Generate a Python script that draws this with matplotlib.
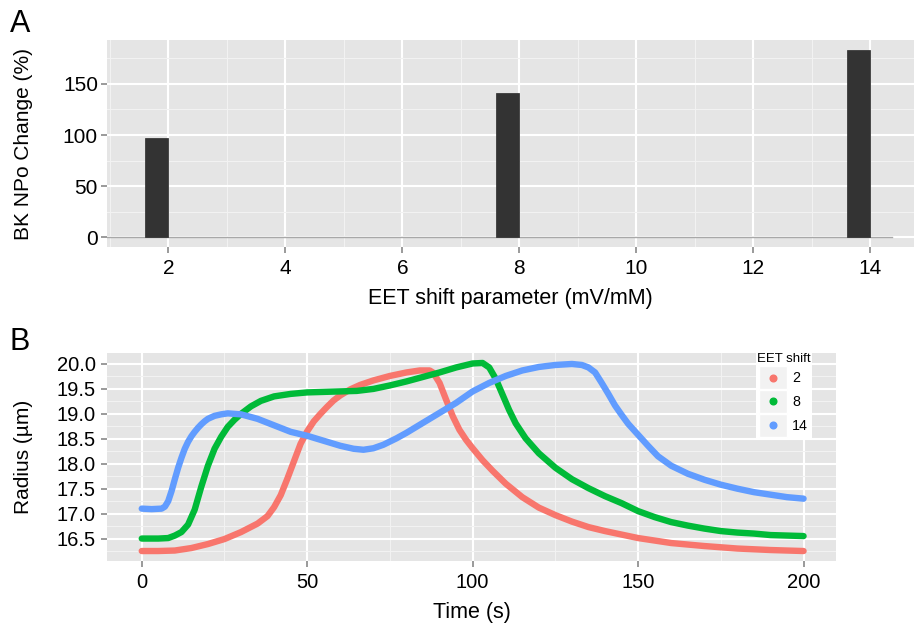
import matplotlib
matplotlib.use("Agg")
import matplotlib.pyplot as plt
from matplotlib.ticker import MultipleLocator, FormatStrFormatter
from matplotlib.legend_handler import HandlerBase
from matplotlib.patches import Rectangle
from matplotlib.lines import Line2D

plt.rcParams['font.family'] = ['Liberation Sans', 'DejaVu Sans']

# ---- Panel A data: BK channel open-probability change vs EET shift ----
eet_shift = [2, 8, 14]
npo_change = [97, 141, 183]

# ---- Panel B data: vessel radius time courses for each EET shift ----
t_2 = [0, 5, 10, 15, 20, 25, 30, 35, 38, 40, 42, 44, 46, 48, 50, 52, 54, 56, 58,
       60, 63, 66, 70, 75, 80, 84, 87, 88, 90, 92, 94, 96, 98, 100, 103, 106,
       110, 115, 120, 125, 130, 135, 140, 145, 150, 160, 170, 180, 190, 200]
r_2 = [16.25, 16.25, 16.26, 16.31, 16.39, 16.49, 16.63, 16.80, 16.95, 17.13,
       17.37, 17.70, 18.05, 18.40, 18.65, 18.85, 19.00, 19.14, 19.27, 19.37,
       19.49, 19.58, 19.67, 19.76, 19.83, 19.87, 19.87, 19.83, 19.62, 19.28,
       18.95, 18.68, 18.48, 18.31, 18.07, 17.86, 17.60, 17.33, 17.12, 16.97,
       16.84, 16.73, 16.65, 16.58, 16.51, 16.41, 16.35, 16.30, 16.27, 16.25]

t_8 = [0, 5, 8, 10, 12, 14, 16, 18, 20, 22, 24, 26, 28, 30, 33, 36, 40, 45, 50,
       55, 60, 65, 70, 75, 80, 85, 90, 95, 100, 103, 105, 107, 109, 111, 113,
       116, 120, 125, 130, 135, 140, 145, 150, 155, 160, 165, 170, 175, 180,
       185, 190, 195, 200]
r_8 = [16.50, 16.50, 16.51, 16.56, 16.63, 16.78, 17.08, 17.54, 17.96, 18.30,
       18.54, 18.74, 18.88, 19.00, 19.15, 19.26, 19.35, 19.40, 19.43, 19.44,
       19.45, 19.46, 19.50, 19.57, 19.65, 19.74, 19.83, 19.93, 20.01, 20.02,
       19.93, 19.70, 19.39, 19.08, 18.81, 18.51, 18.21, 17.92, 17.69, 17.51,
       17.35, 17.21, 17.05, 16.93, 16.83, 16.76, 16.70, 16.65, 16.62, 16.60,
       16.57, 16.56, 16.55]

t_14 = [0, 3, 6, 7, 8, 9, 10, 11, 12, 13, 14, 15, 16, 17, 18, 19, 20, 22, 24, 26,
        30, 35, 40, 45, 50, 55, 60, 64, 67, 70, 73, 77, 80, 85, 90, 95, 100,
        105, 110, 115, 120, 125, 130, 133, 135, 137, 139, 141, 143, 145, 147,
        150, 153, 156, 160, 165, 170, 175, 180, 185, 190, 195, 200]
r_14 = [17.10, 17.09, 17.10, 17.14, 17.25, 17.45, 17.69, 17.92, 18.12, 18.30,
        18.44, 18.55, 18.64, 18.72, 18.79, 18.85, 18.90, 18.96, 18.99, 19.01,
        18.99, 18.90, 18.77, 18.64, 18.56, 18.46, 18.36, 18.30, 18.28, 18.31,
        18.38, 18.51, 18.62, 18.82, 19.02, 19.22, 19.45, 19.62, 19.76, 19.87,
        19.94, 19.98, 20.00, 19.98, 19.93, 19.83, 19.62, 19.40, 19.17, 18.98,
        18.80, 18.58, 18.36, 18.15, 17.96, 17.80, 17.68, 17.58, 17.50, 17.43,
        17.38, 17.33, 17.30]

series = [("2", t_2, r_2, "#F8766D"),
          ("8", t_8, r_8, "#00BA38"),
          ("14", t_14, r_14, "#619CFF")]

PANEL_BG = "#E5E5E5"
MINOR_GRID = "#F2F2F2"
TICK_GREY = "#7F7F7F"

W, H = 914, 627
fig = plt.figure(figsize=(W / 100, H / 100), dpi=100)


def px_axes(left, top, right, bottom):
    return fig.add_axes([left / W, 1 - bottom / H, (right - left) / W, (bottom - top) / H])


def gg_style(ax, fs, ypad):
    ax.set_facecolor(PANEL_BG)
    for s in ax.spines.values():
        s.set_visible(False)
    ax.grid(which="major", color="white", lw=1.5)
    ax.grid(which="minor", color=MINOR_GRID, lw=0.8)
    ax.set_axisbelow(True)
    ax.tick_params(which="major", length=4, width=1.1, color=TICK_GREY,
                   labelsize=fs, labelcolor="black")
    ax.tick_params(axis="x", which="major", pad=5)
    ax.tick_params(axis="y", which="major", pad=ypad)
    ax.tick_params(which="minor", length=0)


# ---------------- Panel A ----------------
axA = px_axes(107, 40, 914, 247)
gg_style(axA, 15, 2.5)
axA.set_xlim(0.95, 14.75)
axA.set_ylim(-9.6, 193)
axA.xaxis.set_major_locator(MultipleLocator(2))
axA.xaxis.set_minor_locator(MultipleLocator(1))
axA.yaxis.set_major_locator(MultipleLocator(50))
axA.yaxis.set_minor_locator(MultipleLocator(25))
axA.bar(eet_shift, npo_change, width=-0.4, align="edge", color="#333333",
        edgecolor="#2a2a2a", lw=0.5, zorder=3)
baseline_end = 14.38
x0, x1 = axA.get_xlim()
axA.axhline(0, xmin=0, xmax=(baseline_end - x0) / (x1 - x0), color="#A8A8A8", lw=1.0, zorder=2)
axA.set_xlabel("EET shift parameter (mV/mM)", fontsize=15.5)
axA.set_ylabel("BK NPo Change (%)", fontsize=15)
axA.xaxis.set_label_coords(0.5, -0.2)
axA.yaxis.set_label_coords(-0.092, 0.5)
fig.text(10 / W, 1 - 32 / H, "A", fontsize=22, ha="left", va="baseline")


# ---------------- Panel B ----------------
axB = px_axes(107, 353, 836, 561)
gg_style(axB, 14.5, 4)
axB.set_xlim(-10.5, 209.8)
axB.set_ylim(16.05, 20.22)
axB.xaxis.set_major_locator(MultipleLocator(50))
axB.xaxis.set_minor_locator(MultipleLocator(25))
axB.yaxis.set_major_locator(MultipleLocator(0.5))
axB.yaxis.set_minor_locator(MultipleLocator(0.25))
axB.yaxis.set_major_formatter(FormatStrFormatter("%.1f"))

lines = []
for name, t, r, col in series:
    ln, = axB.plot(t, r, color=col, lw=4.6, solid_capstyle="round",
                   solid_joinstyle="round", label=name, zorder=3)
    lines.append(ln)

axB.set_xlabel("Time (s)", fontsize=15.5)
axB.set_ylabel("Radius (\u00b5m)", fontsize=15)
axB.xaxis.set_label_coords(0.5, -0.195)
axB.yaxis.set_label_coords(-0.101, 0.5)
fig.text(10 / W, 1 - 350 / H, "B", fontsize=22, ha="left", va="baseline")


class KeyHandler(HandlerBase):
    """Legend key: light grey square with a dot in the middle."""

    def create_artists(self, legend, orig_handle, xdescent, ydescent,
                       width, height, fontsize, trans):
        bg = Rectangle((-xdescent, -ydescent), width, height,
                       facecolor=MINOR_GRID, edgecolor="white", lw=1.0,
                       transform=trans)
        dot = Line2D([-xdescent + width / 2], [-ydescent + height / 2],
                     marker="o", ms=4.8, lw=0, color=orig_handle.get_color(),
                     transform=trans)
        return [bg, dot]


leg = axB.legend(handles=lines, labels=[s[0] for s in series], title="EET shift",
                 loc="upper right", bbox_to_anchor=((812 - 107) / 729, (561 - 352) / 208),
                 handler_map={Line2D: KeyHandler()}, frameon=True, fancybox=False,
                 facecolor="white", edgecolor="none", framealpha=1.0,
                 fontsize=10.3, title_fontsize=9.5, handlelength=1.9,
                 handleheight=2.1, handletextpad=0.4, labelspacing=0.05,
                 borderpad=0.1, borderaxespad=0)
leg.get_title().set_ha("center")

fig.savefig("out.png", dpi=100)
